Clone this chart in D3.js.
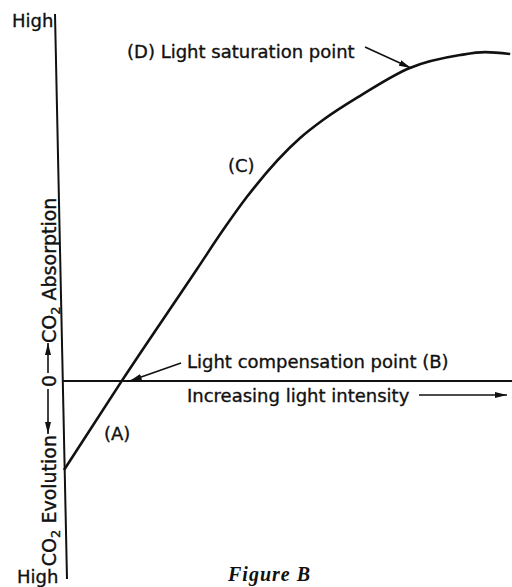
<!DOCTYPE html>
<html>
<head>
<meta charset="utf-8">
<script src="https://cdn.jsdelivr.net/npm/d3@7"></script>
<style>
  body { margin: 0; background: #fff; }
  text { font-family: "DejaVu Sans", sans-serif; font-size: 18px; fill: #111; stroke: #111; stroke-width: 0.35px; }
  .ylab { font-size: 19px; }
  .fig { font-family: "Liberation Serif", serif; font-style: italic; font-weight: bold; font-size: 20px; letter-spacing: 1px; stroke-width: 0; }
</style>
</head>
<body>
<svg width="512" height="587"></svg>
<script>
// light intensity (0-100) vs CO2 exchange (negative = evolution)
var intensity = [0, 12.9, 29.7, 35.5, 40.8, 52.7, 57.8, 66.1, 77.2, 88.4, 94.0, 99.6];
var co2 = [-24.3, 0, 30.5, 41.1, 50.1, 66.2, 71.1, 77.7, 85.3, 88.8, 89.6, 89.1];

var svg = d3.select("svg");

var x = d3.scaleLinear().domain([0, 100]).range([64, 512]),
    y = d3.scaleLinear().domain([-54, 100]).range([579, 14]);

svg.append("defs").append("marker")
    .attr("id", "head")
    .attr("viewBox", "0 0 12 6")
    .attr("refX", 12).attr("refY", 3)
    .attr("markerWidth", 12).attr("markerHeight", 6)
    .attr("markerUnits", "userSpaceOnUse")
    .attr("orient", "auto")
  .append("path")
    .attr("d", "M0,0L12,3L0,6Z")
    .attr("fill", "#111");

// y axis, slightly leaning like the print
var skew = function(v){ return x(0) - 9 + (y(v) - y(100)) * 12 / (y(-54) - y(100)); };
svg.append("line")
    .attr("x1", skew(100)).attr("y1", y(100))
    .attr("x2", skew(-54)).attr("y2", y(-54))
    .attr("stroke", "#111").attr("stroke-width", 2);

// zero line
svg.append("line")
    .attr("x1", skew(0)).attr("y1", y(0))
    .attr("x2", x(100)).attr("y2", y(0))
    .attr("stroke", "#111").attr("stroke-width", 2);

// response curve
var line = d3.line()
    .x(function(d, i){ return x(intensity[i]); })
    .y(function(d){ return y(d); })
    .curve(d3.curveMonotoneX);

svg.append("path")
    .attr("d", line(co2))
    .attr("fill", "none")
    .attr("stroke", "#111")
    .attr("stroke-width", 2.6);

// High labels
svg.append("text").attr("x", 12).attr("y", 27).text("High");
svg.append("text").attr("x", 17).attr("y", 583).text("High");

// annotations
svg.append("text").attr("x", 127).attr("y", 58).text("(D) Light saturation point");
svg.append("line")
    .attr("x1", 365).attr("y1", 47).attr("x2", x(77.2) + 1).attr("y2", y(85.3))
    .attr("stroke", "#111").attr("stroke-width", 1.6).attr("marker-end", "url(#head)");

svg.append("text").attr("x", 228).attr("y", 172).text("(C)");

svg.append("text").attr("x", 187).attr("y", 368).text("Light compensation point (B)");
svg.append("line")
    .attr("x1", 181).attr("y1", 363).attr("x2", x(12.9) + 8).attr("y2", y(0))
    .attr("stroke", "#111").attr("stroke-width", 1.6).attr("marker-end", "url(#head)");

svg.append("text").attr("x", 187).attr("y", 402).text("Increasing light intensity");
svg.append("line")
    .attr("x1", 419).attr("y1", 395).attr("x2", 507).attr("y2", 395)
    .attr("stroke", "#111").attr("stroke-width", 1.6).attr("marker-end", "url(#head)");

svg.append("text").attr("x", 104).attr("y", 440).text("(A)");

// rotated y label
var ax = 56;
var g = svg.append("g");
var t1 = g.append("text").attr("class", "ylab")
    .attr("transform", "translate(" + ax + "," + 435 + ") rotate(-90)")
    .attr("text-anchor", "end");
t1.append("tspan").text("CO");
t1.append("tspan").attr("font-size", 13).attr("dy", 4).text("2");
t1.append("tspan").attr("dy", -4).text(" Evolution");

g.append("text").attr("class", "ylab")
    .attr("transform", "translate(" + ax + "," + y(0) + ") rotate(-90)")
    .attr("text-anchor", "middle")
    .text("0");

var t2 = g.append("text").attr("class", "ylab")
    .attr("transform", "translate(" + ax + "," + 343 + ") rotate(-90)");
t2.append("tspan").text("CO");
t2.append("tspan").attr("font-size", 13).attr("dy", 4).text("2");
t2.append("tspan").attr("dy", -4).text(" Absorption");

g.append("line")
    .attr("x1", ax - 8).attr("y1", y(0) + 8).attr("x2", ax - 8).attr("y2", 434)
    .attr("stroke", "#111").attr("stroke-width", 1.6).attr("marker-end", "url(#head)");
g.append("line")
    .attr("x1", ax - 8).attr("y1", y(0) - 8).attr("x2", ax - 8).attr("y2", 343)
    .attr("stroke", "#111").attr("stroke-width", 1.6).attr("marker-end", "url(#head)");

svg.append("text").attr("class", "fig").attr("x", 228).attr("y", 581).text("Figure B");
</script>
</body>
</html>
